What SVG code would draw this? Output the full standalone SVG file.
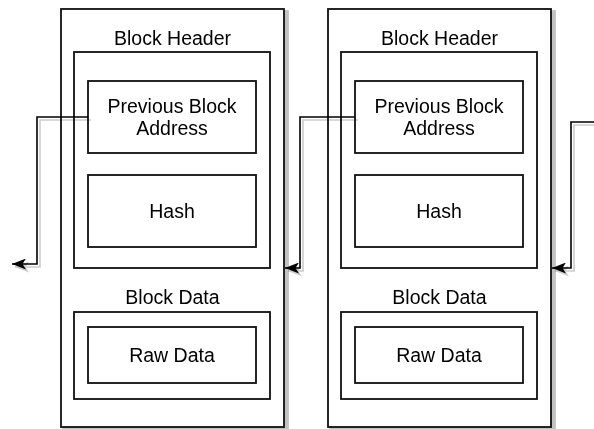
<svg xmlns="http://www.w3.org/2000/svg" width="594" height="429" viewBox="0 0 594 429">
<style>
.box{fill:#fff;stroke:#111;stroke-width:1.8}
.t{font-family:"Liberation Sans",Arial,sans-serif;font-size:19.5px;fill:#000;text-anchor:middle}
.edge{fill:none;stroke:#000;stroke-width:1.6;marker-end:url(#arr)}
</style>
<defs>
<filter id="sh" filterUnits="userSpaceOnUse" x="0" y="0" width="594" height="429">
<feMorphology in="SourceAlpha" operator="dilate" radius="0.6" result="d"/>
<feOffset in="d" dx="3" dy="3" result="o"/>
<feFlood flood-color="#000" flood-opacity="0.24"/>
<feComposite in2="o" operator="in" result="s"/>
<feMerge><feMergeNode in="s"/><feMergeNode in="SourceGraphic"/></feMerge>
</filter>
<filter id="shl" filterUnits="userSpaceOnUse" x="0" y="0" width="594" height="429">
<feOffset in="SourceAlpha" dx="3" dy="3" result="o"/>
<feFlood flood-color="#000" flood-opacity="0.2"/>
<feComposite in2="o" operator="in" result="s"/>
<feMerge><feMergeNode in="s"/><feMergeNode in="SourceGraphic"/></feMerge>
</filter>
<marker id="arr" viewBox="0 0 14 11" refX="14" refY="5.5" markerWidth="14" markerHeight="11" markerUnits="userSpaceOnUse" orient="auto">
<path d="M0,0 L14,5.5 L0,11 L3.5,5.5 Z" fill="#000"/>
</marker>
</defs>
<rect width="594" height="429" fill="#fff"/>
<g id="block1" filter="url(#sh)">
<g id="block1-outer"><rect class="box" x="61" y="9" width="223" height="418"/></g>
<g id="block1-header"><rect class="box" x="74" y="52" width="196" height="216"/><text class="t" x="172.5" y="44.5">Block Header</text></g>
<g id="block1-prev"><rect class="box" x="88" y="81" width="168" height="72"/><text class="t" x="172" y="113.3">Previous Block</text><text class="t" x="172" y="135">Address</text></g>
<g id="block1-hash"><rect class="box" x="88" y="175" width="168" height="72"/><text class="t" x="172" y="218">Hash</text></g>
<g id="block1-data"><rect class="box" x="74" y="312" width="196" height="87"/><text class="t" x="172.5" y="304">Block Data</text></g>
<g id="block1-raw"><rect class="box" x="88" y="327" width="168" height="56"/><text class="t" x="172" y="361.7">Raw Data</text></g>
</g>
<g id="block2" filter="url(#sh)">
<g id="block2-outer"><rect class="box" x="328" y="9" width="223" height="418"/></g>
<g id="block2-header"><rect class="box" x="341" y="52" width="196" height="216"/><text class="t" x="439.5" y="44.5">Block Header</text></g>
<g id="block2-prev"><rect class="box" x="355" y="81" width="168" height="72"/><text class="t" x="439" y="113.3">Previous Block</text><text class="t" x="439" y="135">Address</text></g>
<g id="block2-hash"><rect class="box" x="355" y="175" width="168" height="72"/><text class="t" x="439" y="218">Hash</text></g>
<g id="block2-data"><rect class="box" x="341" y="312" width="196" height="87"/><text class="t" x="439.5" y="304">Block Data</text></g>
<g id="block2-raw"><rect class="box" x="355" y="327" width="168" height="56"/><text class="t" x="439" y="361.7">Raw Data</text></g>
</g>
<g id="connectors" filter="url(#shl)">
<path class="edge" d="M88,117 H37 V264 H12"/>
<path class="edge" d="M355,117 H300 V268 H285"/>
<path class="edge" d="M596,122 H571 V268 H552"/>
</g>
</svg>
